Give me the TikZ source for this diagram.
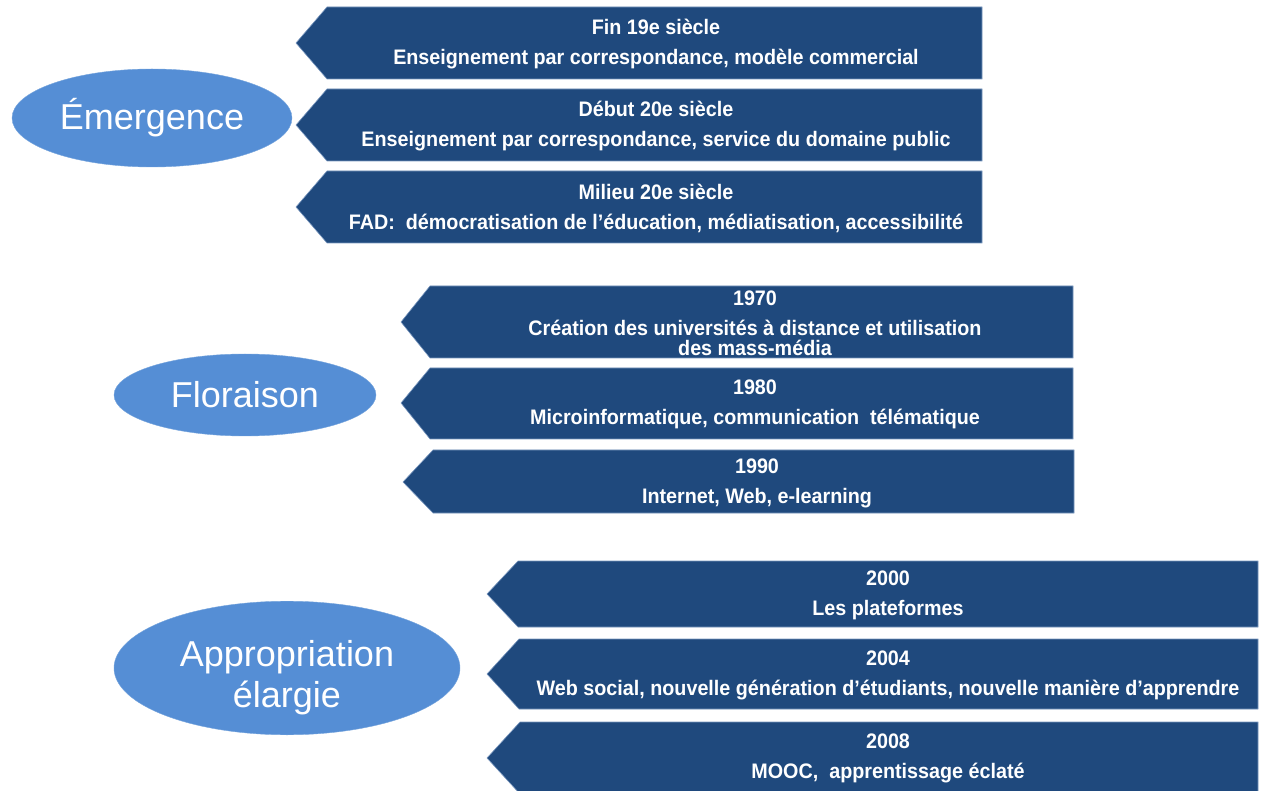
\documentclass[tikz,border=0pt]{standalone}
\usepackage{fontspec}
\setmainfont{Liberation Sans}
\newfontfamily\boxfont[FakeStretch=0.94]{Liberation Sans}
\usepackage{tikz}
\usetikzlibrary{shapes.geometric}
\definecolor{fonce}{RGB}{31,73,125}
\definecolor{bord}{RGB}{120,150,190}
\definecolor{clair}{RGB}{85,142,213}
\tikzset{
  epoque/.style={fill=fonce, draw=bord, line width=0.6pt},
  legende/.style={text=white, align=center, inner sep=0pt, font=\boxfont\bfseries\fontsize{21}{30}\selectfont},
  phase/.style={ellipse, fill=clair, draw=clair!80!white, inner sep=0pt, text=white, align=center, font=\fontsize{36}{41}\selectfont}
}

\begin{document}
\begin{tikzpicture}[x=1pt, y=-1pt]
        \useasboundingbox (0, 0) rectangle (1264, 791);
        % Emergence
        \node[phase, minimum width=280, minimum height=98] (emergence) at (152, 118) {Émergence};
        \filldraw[epoque] (296, 43) -- (327, 7) -- (982, 7) -- (982, 79) -- (327, 79) -- cycle;
        \filldraw[epoque] (296, 125) -- (327, 89) -- (982, 89) -- (982, 161) -- (327, 161) -- cycle;
        \filldraw[epoque] (296, 207) -- (327, 171) -- (982, 171) -- (982, 243) -- (327, 243) -- cycle;
        \node[legende] (fin19) at (656, 44) {Fin 19e siècle\\Enseignement par correspondance, modèle commercial};
        \node[legende] (debut20) at (656, 126) {Début 20e siècle\\Enseignement par correspondance, service du domaine public};
        \node[legende] (milieu20) at (656, 208) {Milieu 20e siècle\\FAD:~ démocratisation de l’éducation, médiatisation, accessibilité};
        % Floraison
        \node[phase, minimum width=262, minimum height=82] (floraison) at (245, 395) {Floraison};
        \filldraw[epoque] (401, 322) -- (430, 286) -- (1073, 286) -- (1073, 358) -- (430, 358) -- cycle;
        \filldraw[epoque] (401, 403) -- (430, 368) -- (1073, 368) -- (1073, 439) -- (430, 439) -- cycle;
        \filldraw[epoque] (403, 482) -- (433, 450) -- (1074, 450) -- (1074, 513) -- (433, 513) -- cycle;
        \node[legende] (an1970) at (755, 323) {1970\\Création des universités à distance et utilisation\\[-10pt]des mass-média};
        \node[legende] (an1980) at (755, 404) {1980\\Microinformatique, communication~ télématique};
        \node[legende] (an1990) at (757, 483) {1990\\Internet, Web, e-learning};
        % Appropriation elargie
        \node[phase, minimum width=346, minimum height=132] (appropriation) at (287, 668) {\rule{0pt}{46pt}Appropriation\\élargie};
        \filldraw[epoque] (487, 594) -- (518, 561) -- (1258, 561) -- (1258, 627) -- (518, 627) -- cycle;
        \filldraw[epoque] (487, 674) -- (519, 639) -- (1258, 639) -- (1258, 709) -- (519, 709) -- cycle;
        \filldraw[epoque] (487, 758) -- (520, 722) -- (1258, 722) -- (1258, 794) -- (520, 794) -- cycle;
        \node[legende] (an2000) at (888, 595) {2000\\Les plateformes};
        \node[legende] (an2004) at (888, 675) {2004\\Web social, nouvelle génération d’étudiants, nouvelle manière d’apprendre};
        \node[legende] (an2008) at (888, 758) {2008\\MOOC,~ apprentissage éclaté};
      \end{tikzpicture}
\end{document}
